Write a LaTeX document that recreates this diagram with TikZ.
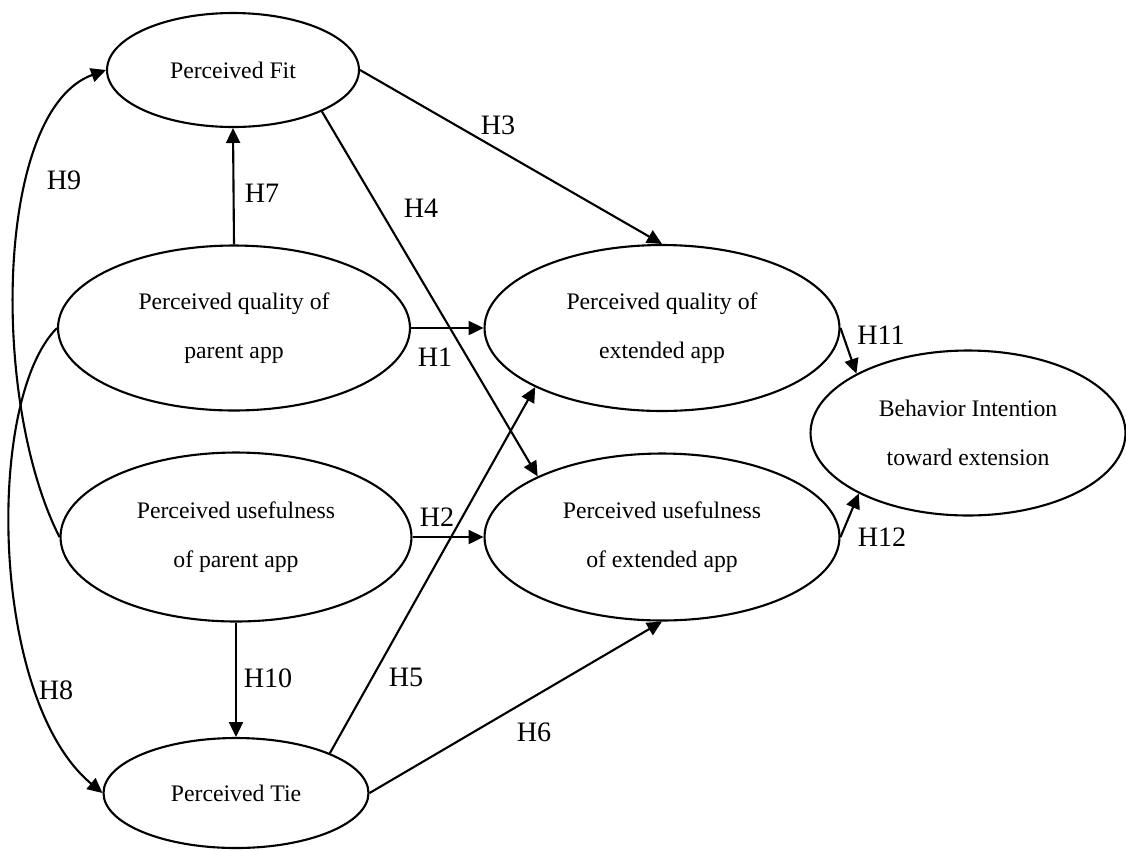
\documentclass[tikz,border=0pt]{standalone}
\usepackage{fontspec}
\setmainfont{Liberation Serif}
\usepackage{tikz}
\usetikzlibrary{shapes.geometric,arrows.meta,backgrounds}
\pgfdeclarelayer{background}
\pgfsetlayers{background,main}

\begin{document}
\begin{tikzpicture}[
  x=0.02cm, y=-0.02cm,
  latent/.style={draw, ellipse, line width=1.2pt, inner sep=0pt,
    align=center, font=\fontsize{13.5}{28}\selectfont},
  hyp/.style={font=\fontsize{16}{18}\selectfont, inner sep=0pt},
  arr/.style={-{Triangle[length=8.5pt, width=8pt]}, line width=1.2pt},
]
\useasboundingbox (0,0) rectangle (1126,850);

\node[latent, minimum width=5.04cm, minimum height=2.28cm] at (233,70)  (fit) {Perceived Fit};
\node[latent, minimum width=7.04cm, minimum height=3.3cm]  at (234,328) (pqp) {Perceived quality of\\parent app};
\node[latent, minimum width=7.02cm, minimum height=3.38cm] at (236,537) (pup) {Perceived usefulness\\of parent app};
\node[latent, minimum width=5.3cm,  minimum height=2.2cm]  at (236,793) (tie) {Perceived Tie};

\node[latent, minimum width=7.1cm, minimum height=3.32cm]  at (662,328) (pqe) {Perceived quality of\\extended app};
\node[latent, minimum width=7.1cm, minimum height=3.34cm]  at (662,537) (pue) {Perceived usefulness\\of extended app};

\node[latent, minimum width=6.3cm, minimum height=3.3cm]   at (968,433) (bi)  {Behavior Intention\\toward extension};

% hypothesis labels
\node[hyp] at (435,357) (lH1)  {H1};
\node[hyp] at (437,517) (lH2)  {H2};
\node[hyp] at (498,125) (lH3)  {H3};
\node[hyp] at (421,208) (lH4)  {H4};
\node[hyp] at (406,677) (lH5)  {H5};
\node[hyp] at (534,732) (lH6)  {H6};
\node[hyp] at (262,193) (lH7)  {H7};
\node[hyp] at (56,690)  (lH8)  {H8};
\node[hyp] at (64,180)  (lH9)  {H9};
\node[hyp] at (268,678) (lH10) {H10};
\node[hyp] at (881,335) (lH11) {H11};
\node[hyp] at (882,537) (lH12) {H12};

\begin{pgfonlayer}{background}
\draw[arr] (pqp.east)  -- (pqe.west);
\draw[arr] (pup.east)  -- (pue.west);
\draw[arr] (fit.east)  -- (pqe.north);
\draw[arr] (fit.-25)   -- (pue.154);
\draw[arr] (tie.23)    -- (pqe.205);
\draw[arr] (tie.east)  -- (pue.south);
\draw[arr] (pqp.north) -- (fit.south);
\draw[arr] (pqp.west) .. controls (-15,400) and (-10,700) .. (tie.west);
\draw[arr] (pup.west) .. controls (-10,400) and (-5,110) .. (fit.west);
\draw[arr] (pup.south) -- (tie.north);
\draw[arr] (pqe.east)  -- (bi.152);
\draw[arr] (pue.east)  -- (bi.209);
\end{pgfonlayer}
\end{tikzpicture}
\end{document}
